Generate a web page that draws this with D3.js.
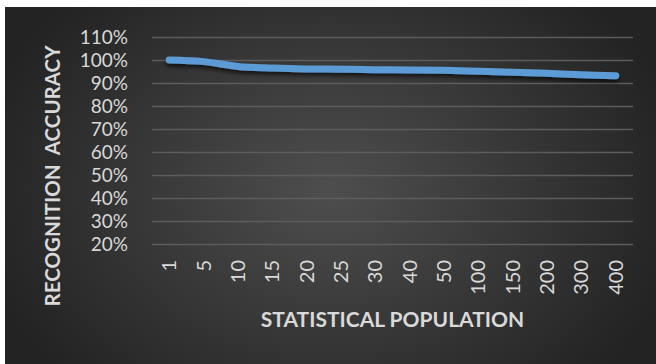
<!DOCTYPE html>
<html>
<head>
<meta charset="utf-8">
<script src="https://cdn.jsdelivr.net/npm/d3@7"></script>
<style>
html,body{margin:0;padding:0;background:#ffffff;}
svg{display:block;}
text{font-family:Lato,"Open Sans",sans-serif;}
</style>
</head>
<body>
<svg id="chart" width="656" height="364"></svg>
<script>
const categories = ["1","5","10","15","20","25","30","40","50","100","150","200","300","400"];
const accuracy = [1.000, 0.993, 0.972, 0.965, 0.961, 0.960, 0.958, 0.957, 0.955, 0.951, 0.947, 0.942, 0.936, 0.932];
const yTicks = [0.2,0.3,0.4,0.5,0.6,0.7,0.8,0.9,1.0,1.1];
const xTitle = "STATISTICAL POPULATION";
const yTitle = "RECOGNITION  ACCURACY";

const W = 656, H = 364;
const FONT = "Lato,'Open Sans',sans-serif";
const svg = d3.select("#chart");
const defs = svg.append("defs");
const grad = defs.append("radialGradient").attr("id","bg")
  .attr("gradientUnits","userSpaceOnUse")
  .attr("cx",330).attr("cy",190).attr("r",360)
  .attr("gradientTransform","translate(330,190) scale(1,0.75) translate(-330,-190)");
grad.append("stop").attr("offset","0%").attr("stop-color","#4e4e4e");
grad.append("stop").attr("offset","100%").attr("stop-color","#232323");

const shadow = defs.append("filter").attr("id","shadow")
  .attr("x","-10%").attr("y","-200%").attr("width","120%").attr("height","500%");
shadow.append("feDropShadow").attr("dx",0).attr("dy",3).attr("stdDeviation",2.2)
  .attr("flood-color","#000").attr("flood-opacity",0.65);

svg.append("rect").attr("x",5).attr("y",7).attr("width",W-5).attr("height",H-7).attr("fill","url(#bg)");

const pLeft = 152, pRight = 633, pTop = 37, pBottom = 244;
const x = d3.scaleBand().domain(categories).range([pLeft,pRight]);
const y = d3.scaleLinear().domain([0.2,1.1]).range([pBottom,pTop]);

// gridlines
svg.append("g").selectAll("line").data(yTicks).join("line")
  .attr("x1",pLeft).attr("x2",pRight)
  .attr("y1",d=>y(d)+0.5).attr("y2",d=>y(d)+0.5)
  .attr("stroke","#5c5c5c").attr("stroke-width",1.3);

// y axis labels
const yAxis = d3.axisLeft(y).tickValues(yTicks).tickFormat(d3.format(".0%")).tickSize(0).tickPadding(0);
const gy = svg.append("g").attr("transform","translate(128,0)").call(yAxis);
gy.select(".domain").remove();
gy.selectAll("text").attr("fill","#d9d9d9").style("font-size","19px").style("font-family",FONT);

// x axis labels
const xAxis = d3.axisBottom(x).tickSize(0).tickPadding(0);
const gx = svg.append("g").attr("transform","translate(0,260)").call(xAxis);
gx.select(".domain").remove();
gx.selectAll("text")
  .attr("fill","#d9d9d9").style("font-size","20px").style("font-family",FONT)
  .attr("text-anchor","end").attr("y",0).attr("x",0).attr("dy","0.35em")
  .attr("transform","rotate(-90)");

// line
const line = d3.line().x((d,i)=>x(categories[i])+x.bandwidth()/2).y(d=>y(d)).curve(d3.curveCatmullRom.alpha(0.5));
svg.append("path").datum(accuracy).attr("d",line)
  .attr("fill","none").attr("stroke","#5b9bd5").attr("stroke-width",7)
  .attr("stroke-linecap","round").attr("stroke-linejoin","round")
  .attr("filter","url(#shadow)");

// titles
svg.append("text").attr("x",(pLeft+pRight)/2).attr("y",327).attr("text-anchor","middle")
  .attr("fill","#d9d9d9").style("font-size","21px").style("font-weight","bold").style("font-family",FONT).text(xTitle);
svg.append("text").attr("transform","translate(60,176) rotate(-90)").attr("text-anchor","middle")
  .attr("fill","#d9d9d9").style("font-size","20.5px").style("font-weight","bold").style("font-family",FONT)
  .style("white-space","pre").text(yTitle);
</script>
</body>
</html>
